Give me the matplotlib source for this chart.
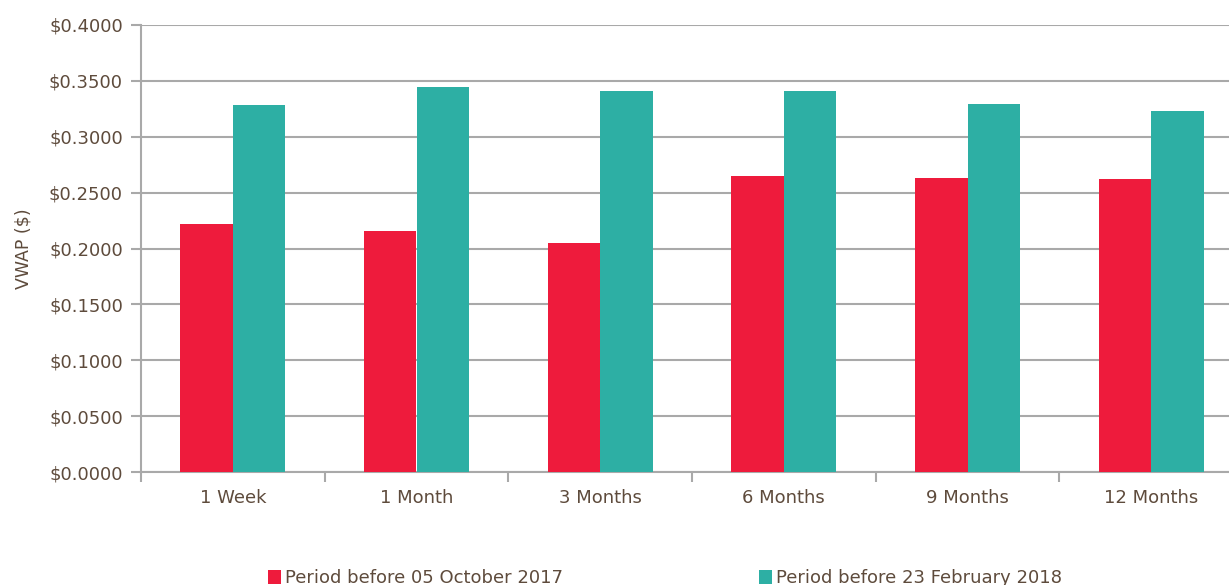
import matplotlib
matplotlib.use("Agg")
import matplotlib.pyplot as plt
from matplotlib.patches import Patch
from matplotlib.ticker import FuncFormatter
import numpy as np

categories = ["1 Week", "1 Month", "3 Months", "6 Months", "9 Months", "12 Months"]
series_names = ["Period before 05 October 2017", "Period before 23 February 2018"]
vwap_oct2017 = [0.2219, 0.2157, 0.2049, 0.2651, 0.2628, 0.2619]
vwap_feb2018 = [0.3284, 0.3442, 0.3407, 0.3405, 0.3296, 0.3228]
y_ticks = [0.0, 0.05, 0.10, 0.15, 0.20, 0.25, 0.30, 0.35, 0.40]

RED = "#EE1B3C"
TEAL = "#2DAFA4"
TXT = "#5E4B3C"
GRID = "#A9A9A9"

plt.rcParams['font.family'] = ['DejaVu Sans']

W, H = 1229, 585
fig = plt.figure(figsize=(W / 100, H / 100), dpi=100)
left, right, top, bottom = 141, 1243, 25, 472
ax = fig.add_axes([left / W, 1 - bottom / H, (right - left) / W, (bottom - top) / H])

x = np.arange(len(categories))
bw = 0.286
ax.bar(x - bw / 2, vwap_oct2017, width=bw, color=RED, zorder=3)
ax.bar(x + bw / 2, vwap_feb2018, width=bw, color=TEAL, zorder=3)

ax.set_xlim(-0.5, len(categories) - 0.5)
ax.set_ylim(0, 0.4)
ax.set_yticks(y_ticks)
ax.yaxis.set_major_formatter(FuncFormatter(lambda v, p: f"${v:.4f}"))
ax.yaxis.grid(True, color=GRID, linewidth=1.5, zorder=0)
ax.set_axisbelow(True)

ax.set_xticks(x)
ax.set_xticklabels(categories)
ax.set_xticks(np.arange(-0.5, len(categories), 1.0), minor=True)
ax.tick_params(axis='x', which='major', length=0, pad=12, labelsize=13, labelcolor=TXT)
ax.tick_params(axis='x', which='minor', length=7, width=1.5, color=GRID, direction='out')
ax.tick_params(axis='y', which='major', length=7, width=1.5, color=GRID, direction='out',
               labelsize=13, labelcolor=TXT, pad=6)

for s in ['top', 'right']:
    ax.spines[s].set_visible(False)
for s in ['left', 'bottom']:
    ax.spines[s].set_color(GRID)
    ax.spines[s].set_linewidth(1.5)

ax.set_ylabel("VWAP ($)", color=TXT, fontsize=12.5, labelpad=12)

handles = [Patch(facecolor=RED), Patch(facecolor=TEAL)]
fig.legend(handles, series_names, loc='center', bbox_to_anchor=(665 / W, 1 - 578 / H),
           ncol=2, frameon=False, fontsize=13, handlelength=0.7, handleheight=0.8,
           handletextpad=0.2, columnspacing=10.9, labelcolor=TXT)

fig.savefig("out.png", dpi=100)
